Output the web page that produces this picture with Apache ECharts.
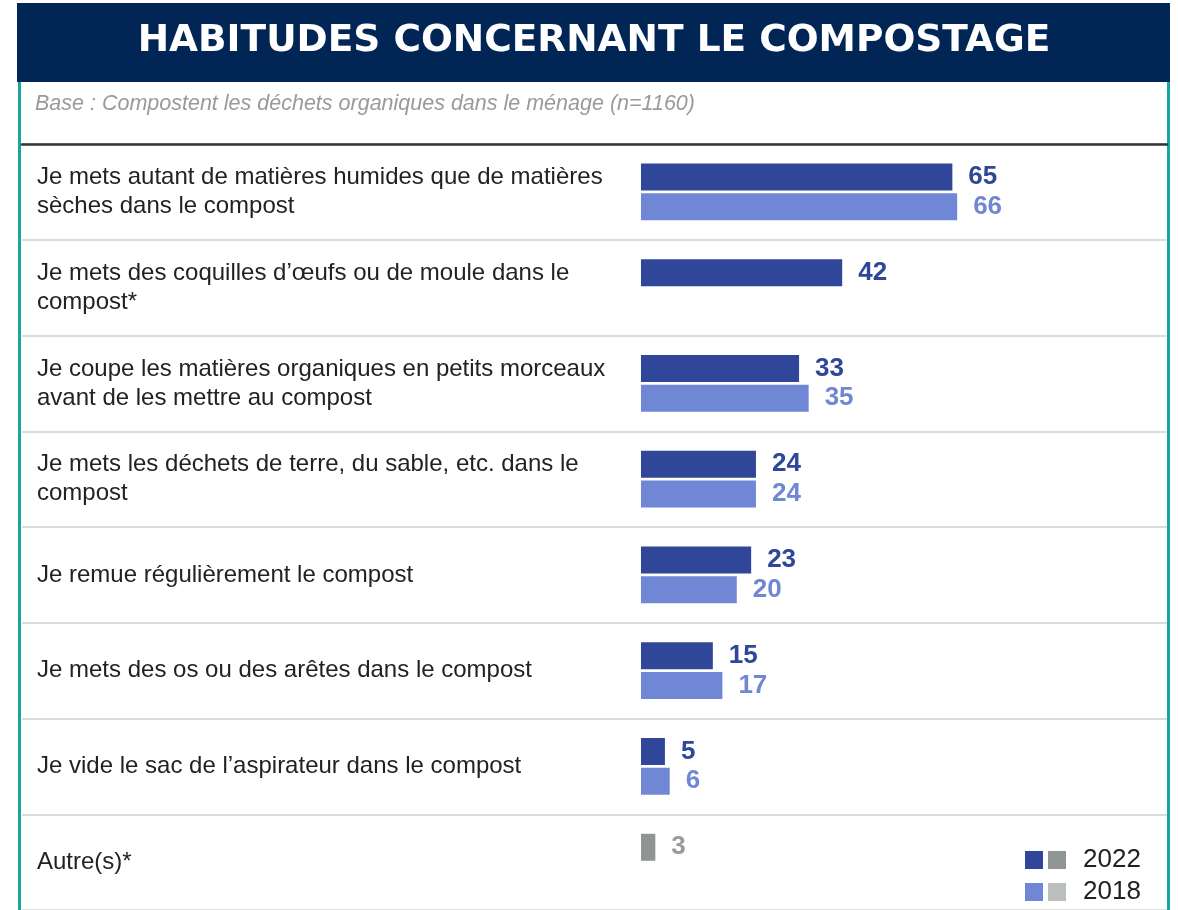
<!DOCTYPE html>
<html>
<head>
<meta charset="utf-8">
<script src="https://cdn.jsdelivr.net/npm/echarts@6/dist/echarts.min.js"></script>
<style>
  html, body { margin: 0; padding: 0; background: #fff; }
  #chart { width: 1178px; height: 910px; }
</style>
</head>
<body>
<div id="chart"></div>
<script>
// donnees
var categories = [
  "Je mets autant de matières humides que de matières\nsèches dans le compost",
  "Je mets des coquilles d’œufs ou de moule dans le\ncompost*",
  "Je coupe les matières organiques en petits morceaux\navant de les mettre au compost",
  "Je mets les déchets de terre, du sable, etc. dans le\ncompost",
  "Je remue régulièrement le compost",
  "Je mets des os ou des arêtes dans le compost",
  "Je vide le sac de l’aspirateur dans le compost",
  "Autre(s)*"
];
var values2022 = [65, 42, 33, 24, 23, 15, 5, 3];
var values2018 = [66, "-", 35, 24, 20, 17, 6, "-"];
var years = ["2022", "2018"];

var blue = "#2f4699";
var lightBlue = "#7087d5";
var grey = "#8f9592";
var lightGrey = "#babfbe";

// la derniere ligne (Autre) est en gris
var data2022 = values2022.map(function (v, i) {
  if (i === categories.length - 1) {
    return { value: v, itemStyle: { color: grey }, label: { color: "#9a9a9a" } };
  }
  return v;
});

var myChart = echarts.init(document.getElementById("chart"));

var option = {
  animation: false,
  textStyle: { fontFamily: "Liberation Sans, Arial, sans-serif" },
  graphic: [
    { type: "rect", shape: { x: 17, y: 3, width: 1153, height: 79 }, style: { fill: "#012656" }, z: 0 },
    { type: "rect", shape: { x: 18, y: 82, width: 3, height: 830 }, style: { fill: "#17a6a0" }, z: 0 },
    { type: "rect", shape: { x: 1167, y: 82, width: 3, height: 830 }, style: { fill: "#17a6a0" }, z: 0 }
  ],
  title: [
    {
      text: "HABITUDES CONCERNANT LE COMPOSTAGE",
      left: 594,
      textAlign: "center",
      top: 22,
      padding: 0,
      textStyle: { color: "#fff", fontSize: 37.5, fontWeight: "bold", fontFamily: "DejaVu Sans" }
    },
    {
      text: "Base : Compostent les déchets organiques dans le ménage (n=1160)",
      left: 35,
      top: 93,
      padding: 0,
      textStyle: { color: "#9a9a9a", fontSize: 21.5, fontStyle: "italic", fontWeight: "normal", fontFamily: "Liberation Sans" }
    }
  ],
  legend: {
    orient: "vertical",
    left: 1025,
    top: 847,
    padding: 0,
    itemWidth: 18,
    itemHeight: 18,
    itemGap: 6,
    icon: "rect",
    data: years,
    formatter: function (name) {
      return (name === "2022" ? "{g1|}" : "{g2|}") + "{s|}" + name;
    },
    textStyle: {
      fontSize: 26,
      lineHeight: 26,
      color: "#222",
      rich: {
        g1: { width: 18, height: 18, backgroundColor: grey },
        g2: { width: 18, height: 18, backgroundColor: lightGrey },
        s: { width: 17 }
      }
    }
  },
  grid: { left: 22, top: 144, width: 1145, height: 768, containLabel: false },
  xAxis: {
    type: "value",
    position: "top",
    min: -129.2,
    max: 109.8,
    axisLine: { show: true, onZero: false, lineStyle: { color: "#333", width: 2.5 } },
    axisTick: { show: false },
    axisLabel: { show: false },
    splitLine: { show: false }
  },
  yAxis: {
    type: "category",
    inverse: true,
    data: categories,
    axisLine: { show: false },
    axisTick: { show: false },
    splitLine: { show: true, lineStyle: { color: "#cfcfcf", width: 1.5 } },
    axisLabel: {
      inside: true,
      margin: 15,
      align: "left",
      fontSize: 24,
      lineHeight: 29,
      color: "#222"
    }
  },
  series: [
    {
      name: "2022",
      type: "bar",
      data: data2022,
      barWidth: 27,
      barGap: "10%",
      itemStyle: { color: blue },
      label: {
        show: true,
        position: "right",
        distance: 16,
        fontSize: 26,
        fontWeight: "bold",
        color: blue
      }
    },
    {
      name: "2018",
      type: "bar",
      data: values2018,
      barWidth: 27,
      itemStyle: { color: lightBlue },
      label: {
        show: true,
        position: "right",
        distance: 16,
        fontSize: 26,
        fontWeight: "bold",
        color: lightBlue
      }
    }
  ]
};

myChart.setOption(option);
window.addEventListener("resize", function () {
  myChart.resize();
});
</script>
</body>
</html>
